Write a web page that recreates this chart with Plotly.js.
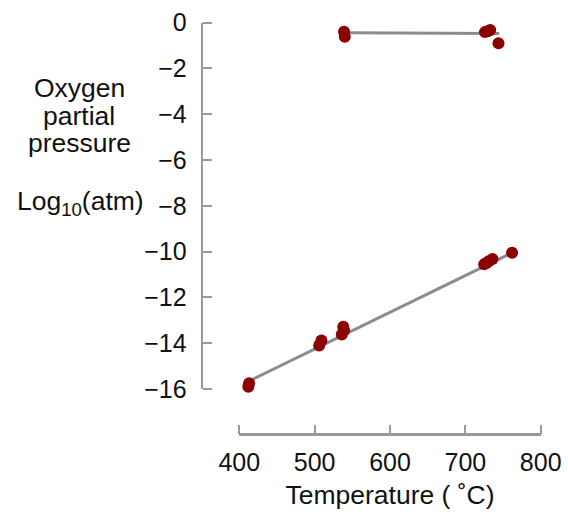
<!DOCTYPE html>
<html>
<head>
<meta charset="utf-8">
<script src="https://cdn.plot.ly/plotly-3.0.1.min.js"></script>
<style>html,body{margin:0;padding:0;background:#fff;}#chart{width:568px;height:514px;}</style>
</head>
<body>
<div id="chart"></div>
<script>
// Measured data (temperature in °C, log10 of O2 partial pressure in atm)
const upperT = [539, 540, 726, 730, 733, 744];
const upperP = [-0.40, -0.62, -0.42, -0.38, -0.33, -0.91];
const lowerT = [411, 412, 413, 506, 509, 536, 538, 539, 725, 728, 731, 736, 762];
const lowerP = [-16.05, -15.9, -15.75, -14.1, -13.88, -13.62, -13.28, -13.45, -10.55, -10.5, -10.42, -10.32, -10.05];
// Fitted lines
const fitUpperT = [541, 745];
const fitUpperP = [-0.45, -0.48];
const fitLowerT = [413, 762];
const fitLowerP = [-15.65, -10.05];
const xTicks = [400, 500, 600, 700, 800];
const yTicks = [0, -2, -4, -6, -8, -10, -12, -14, -16];
const xRange = [400, 800];
const yRange = [-16, 0];

const W = 568, H = 514;
const lineStyle = {color: '#8c8c8c', width: 3};
const markerStyle = {color: '#8b0000', size: 12};

const traces = [
  {x: fitUpperT, y: fitUpperP, mode: 'lines', line: lineStyle, cliponaxis: false, hoverinfo: 'skip'},
  {x: fitLowerT, y: fitLowerP, mode: 'lines', line: lineStyle, cliponaxis: false, hoverinfo: 'skip'},
  {x: upperT, y: upperP, mode: 'markers', marker: markerStyle, cliponaxis: false},
  {x: lowerT, y: lowerP, mode: 'markers', marker: markerStyle, cliponaxis: false},
  // invisible trace carrying the tick-only overlay axes
  {x: xRange, y: yRange, xaxis: 'x2', yaxis: 'y2', mode: 'markers', marker: {opacity: 0}, hoverinfo: 'skip'}
];

const tickFont = {family: 'Liberation Sans, Arial, sans-serif', size: 25, color: '#111'};
const titleFont = {family: 'Liberation Sans, Arial, sans-serif', size: 26.5, color: '#111'};
const axisCol = '#999';

const xDomain = [239.3 / W, 540.7 / W];
const yDomain = [1 - 389 / H, 1 - 22.5 / H];
const xPos = 1 - 434 / H;
const yPos = 201.7 / W;

const layout = {
  width: W, height: H,
  margin: {l: 0, r: 0, t: 0, b: 0},
  paper_bgcolor: '#fff', plot_bgcolor: 'rgba(0,0,0,0)',
  showlegend: false,
  font: tickFont,
  xaxis: {
    domain: xDomain, range: xRange,
    anchor: 'free', position: xPos,
    tickvals: xTicks, ticks: '',
    showline: true, linecolor: axisCol, linewidth: 2.5,
    showgrid: false, zeroline: false,
    tickfont: tickFont,
    ticklabelstandoff: 5,
    title: {text: 'Temperature ( ˚C)', font: titleFont, standoff: 10}
  },
  yaxis: {
    domain: yDomain, range: yRange,
    anchor: 'free', position: yPos,
    tickvals: yTicks, ticks: '',
    showline: true, linecolor: axisCol, linewidth: 2.5,
    showgrid: false, zeroline: false,
    tickfont: tickFont,
    ticklabelstandoff: 9
  },
  // tick-only overlay axes so the ticks point into the plot
  xaxis2: {
    overlaying: 'x', domain: xDomain, range: xRange, side: 'top',
    anchor: 'free', position: xPos,
    tickvals: xTicks, ticks: 'outside', ticklen: 9, tickwidth: 2, tickcolor: axisCol,
    showticklabels: false, showline: false, showgrid: false, zeroline: false
  },
  yaxis2: {
    overlaying: 'y', domain: yDomain, range: yRange, side: 'right',
    anchor: 'free', position: yPos,
    tickvals: yTicks, ticks: 'outside', ticklen: 9, tickwidth: 2, tickcolor: axisCol,
    showticklabels: false, showline: false, showgrid: false, zeroline: false
  },
  annotations: [
    {text: 'Oxygen', x: 79 / W, y: 1 - 88 / H},
    {text: 'partial', x: 79 / W, y: 1 - 116 / H},
    {text: 'pressure', x: 79 / W, y: 1 - 143 / H},
    {text: 'Log<sub>10</sub>(atm)', x: 80 / W, y: 1 - 203 / H}
  ].map(a => Object.assign({xref: 'paper', yref: 'paper', xanchor: 'center', yanchor: 'middle', showarrow: false, font: titleFont}, a))
};

Plotly.newPlot('chart', traces, layout, {staticPlot: true, displayModeBar: false});
</script>
</body>
</html>
